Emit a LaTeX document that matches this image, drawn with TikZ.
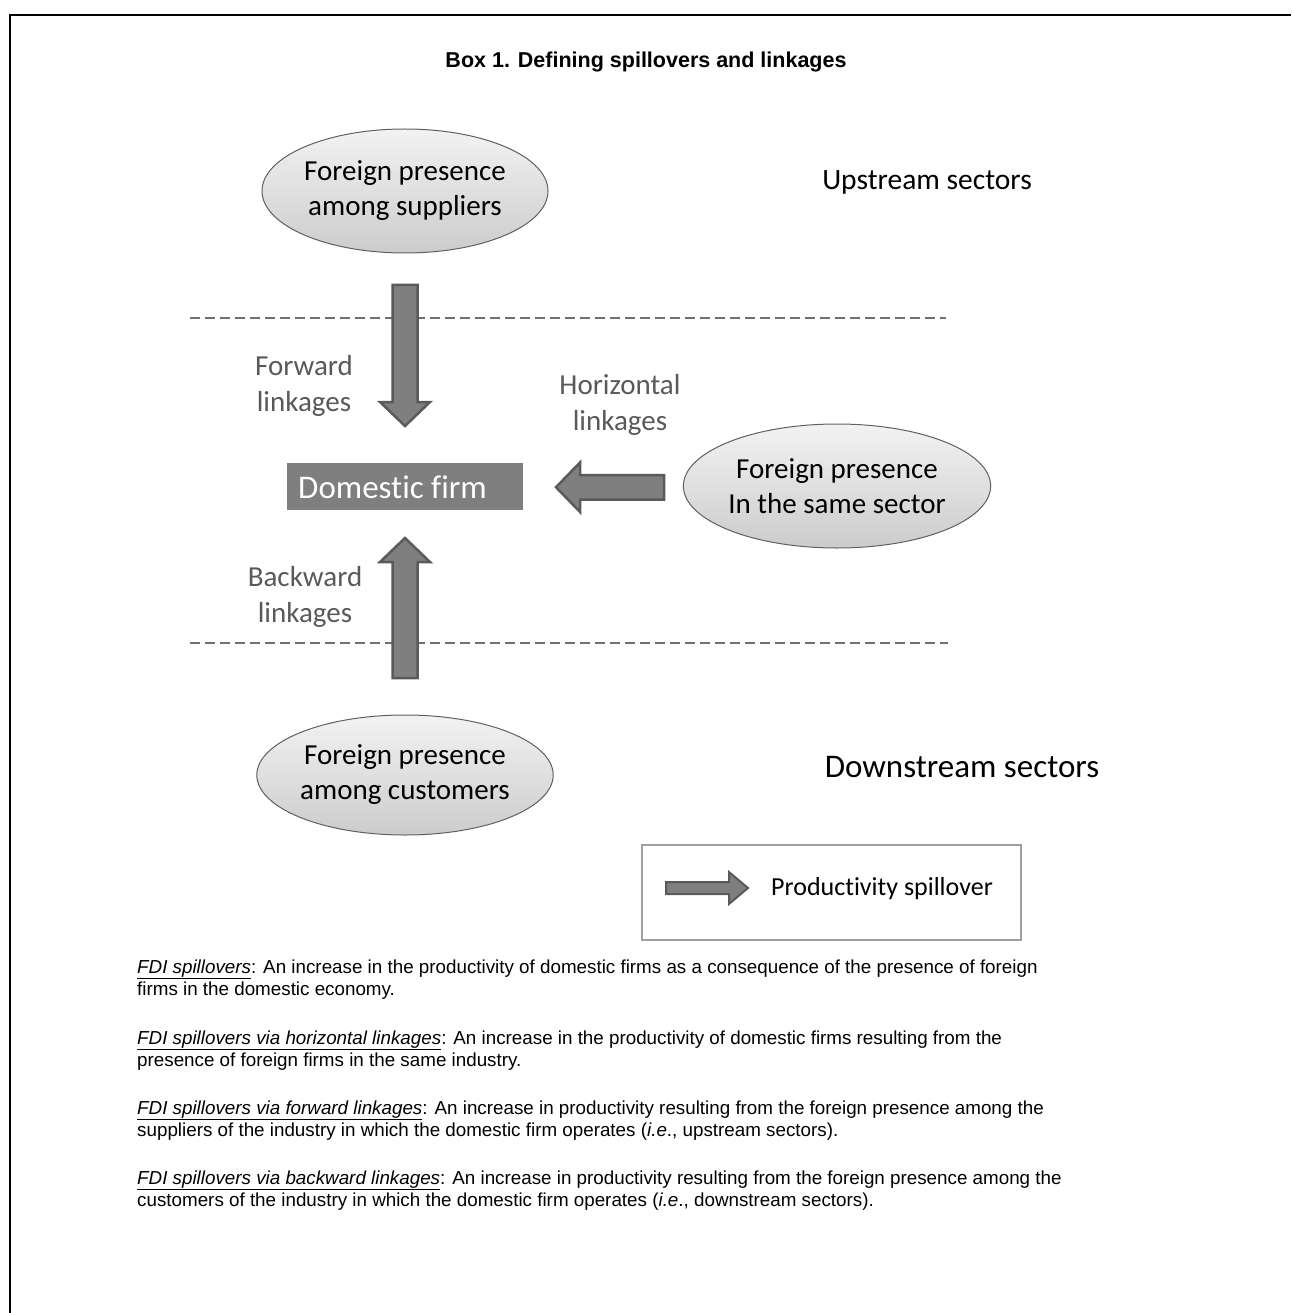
\documentclass[tikz,border=0pt]{standalone}
\usepackage{fontspec}
\setmainfont{Liberation Sans}
\newfontfamily\calfont[Ligatures=NoCommon]{Carlito}
\usetikzlibrary{shapes.geometric}
\definecolor{arrfill}{HTML}{7F7F7F}
\definecolor{arrdraw}{HTML}{5A5A5A}
\definecolor{lblgray}{HTML}{595959}
\definecolor{dashgray}{HTML}{707070}
\tikzset{
  presence/.style={ellipse, draw=gray!75!black, line width=1pt, top color=gray!10, bottom color=gray!40,
    minimum width=286pt, minimum height=124pt, inner sep=0pt, align=center,
    font=\calfont\fontsize{29}{35}\selectfont},
  sector/.style={anchor=base},
  linklbl/.style={align=center, text=lblgray, font=\calfont\fontsize{29}{36}\selectfont},
  blockarrow/.style={fill=arrfill, draw=arrdraw, line width=2.5pt, line join=miter},
  sepline/.style={draw=dashgray, line width=2pt, dash pattern=on 10pt off 5pt},
  bodyline/.style={anchor=base west, inner sep=0pt, font=\fontsize{18.8}{22}\selectfont},
}
\begin{document}
\begin{tikzpicture}[x=1pt,y=-1pt]
\useasboundingbox (0,0) rectangle (1291,1313);
% frame (top and left only visible)
\draw[line width=2.5pt] (10,1313) -- (10,15) -- (1291,15);
% title
\node[anchor=base, font=\bfseries\fontsize{21.5}{25}\selectfont] (title) at (646,68) {Box 1. Defining spillovers and linkages};
% dashed separators
\coordinate (d1a) at (190,318); \coordinate (d1b) at (946,318);
\coordinate (d2a) at (190,643); \coordinate (d2b) at (948,643);
\draw[sepline] (d1a) -- (d1b);
\draw[sepline] (d2a) -- (d2b);
% ellipses
\node[presence] (sup) at (405,191) {Foreign presence\\among suppliers};
\node[presence] (same) at (837,486) {Foreign presence\\In the same sector};
\node[presence, minimum height=120pt] (cus) at (405,775) {Foreign presence\\among customers};
% domestic firm
\node[fill=arrfill, minimum width=236pt, minimum height=47pt, inner sep=0pt] (dom) at (405,486.5) {};
\node[anchor=base west, text=white, inner sep=0pt, font=\calfont\fontsize{33}{38}\selectfont] (domtxt) at (298,498) {Domestic firm};
% sector labels
\node[sector, font=\calfont\fontsize{29.5}{35}\selectfont] (up) at (927,190) {Upstream sectors};
\node[sector, font=\calfont\fontsize{33}{39}\selectfont] (down) at (962,777) {Downstream sectors};
% forward arrow (down)
\draw[blockarrow] (392.5,285) -- (417.5,285) -- (417.5,402) -- (430,402) -- (405,426) -- (380,402) -- (392.5,402) -- cycle;
% backward arrow (up)
\draw[blockarrow] (392.5,678) -- (417.5,678) -- (417.5,562) -- (430,562) -- (405,538) -- (380,562) -- (392.5,562) -- cycle;
% horizontal arrow (left)
\draw[blockarrow] (664,475) -- (664,499.5) -- (580,499.5) -- (580,512) -- (556,487.2) -- (580,462.5) -- (580,475) -- cycle;
% linkage labels
\node[linklbl] (fwd) at (304,386) {Forward\\linkages};
\node[linklbl] (bwd) at (305,597) {Backward\\linkages};
\node[linklbl] (hor) at (620,405) {Horizontal\\linkages};
% legend
\node[draw=gray!75, line width=1.2pt, minimum width=379pt, minimum height=95pt, inner sep=0pt] (legend) at (831.5,892.5) {};
\draw[blockarrow, line width=2pt] (666,882) -- (729,882) -- (729,872) -- (748,888) -- (729,904) -- (729,894) -- (666,894) -- cycle;
\node[anchor=west, inner sep=0pt, font=\calfont\fontsize{26}{30}\selectfont] (legtxt) at (771,889) {Productivity spillover};
% body text
\node[bodyline] (b1) at (137,973) {\underline{\textit{FDI spillovers}}: An increase in the productivity of domestic firms as a consequence of the presence of foreign};
\node[bodyline] (b2) at (137,995) {firms in the domestic economy.};
\node[bodyline] (b3) at (137,1044) {\underline{\textit{FDI spillovers via horizontal linkages}}: An increase in the productivity of domestic firms resulting from the};
\node[bodyline] (b4) at (137,1066) {presence of foreign firms in the same industry.};
\node[bodyline] (b5) at (137,1114) {\underline{\textit{FDI spillovers via forward linkages}}: An increase in productivity resulting from the foreign presence among the};
\node[bodyline] (b6) at (137,1136) {suppliers of the industry in which the domestic firm operates (\textit{i.e}., upstream sectors).};
\node[bodyline] (b7) at (137,1184) {\underline{\textit{FDI spillovers via backward linkages}}: An increase in productivity resulting from the foreign presence among the};
\node[bodyline] (b8) at (137,1206) {customers of the industry in which the domestic firm operates (\textit{i.e}., downstream sectors).};
\end{tikzpicture}
\end{document}
